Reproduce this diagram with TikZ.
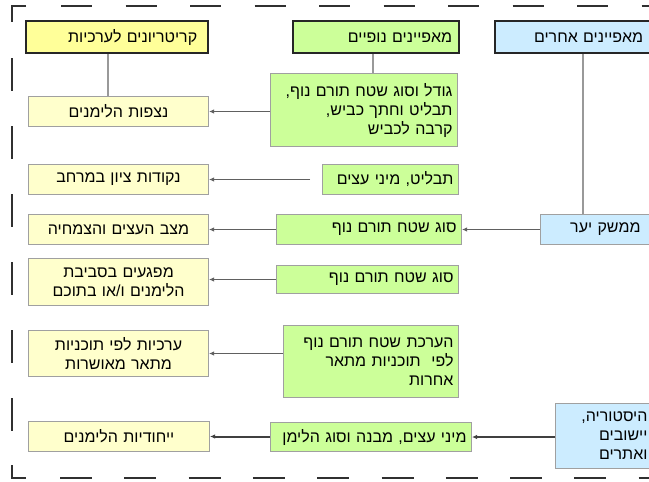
\documentclass[tikz,border=0pt]{standalone}
\usepackage{fontspec}
\newfontfamily\hebfont[Script=Hebrew]{Liberation Sans}
\TeXXeTstate=1
\usetikzlibrary{arrows.meta}
\newcommand{\heb}[1]{\beginR #1\endR}
\definecolor{hyel}{HTML}{FFFF99}
\definecolor{byel}{HTML}{FFFFCC}
\definecolor{bgrn}{HTML}{CCFF99}
\definecolor{bblu}{HTML}{CCECFF}
\definecolor{bord}{HTML}{A0A0A0}
\definecolor{conn}{HTML}{606060}
\definecolor{frm}{HTML}{303030}
\tikzset{
  boxbase/.style={draw=bord, line width=1pt, inner xsep=5pt, inner ysep=1pt,
    font=\hebfont\fontsize{16}{19}\selectfont, anchor=north west},
  head/.style={boxbase, draw=black!85, line width=2.4pt, align=right},
  ybox/.style={boxbase, fill=byel, align=center},
  gbox/.style={boxbase, fill=bgrn, align=right},
  bbox/.style={boxbase, fill=bblu, align=right},
  conline/.style={draw=conn, line width=1.4pt, -{Latex[length=5pt,width=4.5pt]}},
  vline/.style={draw=gray!80, line width=1.2pt},
  frame/.style={draw=frm, line width=1.8pt}
}
\newcommand{\bx}[7]{%
  \pgfmathsetmacro\bw{#5-#3}\pgfmathsetmacro\bh{#6-#4}\pgfmathsetmacro\tw{#5-#3-10}%
  \node[#2, minimum width=\bw pt, minimum height=\bh pt, text width=\tw pt] (#1) at (#3,#4) {#7};}
\begin{document}
\begin{tikzpicture}[x=1pt,y=-1pt]
\useasboundingbox (0,0) rectangle (649,482);
\fill[white] (0,0) rectangle (649,482);
\clip (0,0) rectangle (649,482);
% frame
\draw[frame] (26,6) -- (12,6) -- (12,22);
\draw[frame, dash pattern=on 31pt off 33.5pt] (61,6) -- (680,6);
\draw[frame, dash pattern=on 33pt off 35pt] (12,58) -- (12,440);
\draw[frame] (12,465) -- (12,478) -- (26,478);
\draw[frame, dash pattern=on 32pt off 32.3pt] (60,478) -- (680,478);
% headers
\bx{H1}{head, fill=hyel}{25}{20}{207}{52}{\heb{קריטריונים לערכיות}\kern6pt}
\bx{H2}{head, fill=bgrn}{292}{20}{458}{52}{\heb{מאפיינים נופיים}\kern2pt}
\bx{H3}{head, fill=bblu}{494}{20}{664}{52}{\heb{מאפיינים אחרים}\kern17pt}
% row 1
\bx{Y1}{ybox}{28}{96}{208}{126}{\heb{נצפות הלימנים}}
\bx{G1}{gbox}{270}{73}{457}{146}{\heb{גודל וסוג שטח תורם נוף,}\\\heb{תבליט וחתך כביש,}\\\heb{קרבה לכביש}}
% row 2
\bx{Y2}{ybox}{28}{164}{208}{194}{\heb{נקודות ציון במרחב}}
\bx{G2}{gbox}{322}{164}{458}{194}{\heb{תבליט, מיני עצים}}
% row 3
\bx{Y3}{ybox}{28}{214}{208}{244}{\heb{מצב העצים והצמחיה}}
\bx{G3}{gbox}{276}{214}{461}{244}{\heb{סוג שטח תורם נוף}}
\bx{B3}{bbox}{540}{214}{654}{244}{\heb{ממשק יער}\kern9pt}
% row 4
\bx{Y4}{ybox}{28}{258}{208}{305}{\heb{מפגעים בסביבת}\\\heb{הלימנים ו/או בתוכם}}
\bx{G4}{gbox}{276}{265}{458}{293}{\heb{סוג שטח תורם נוף}}
% row 5
\bx{Y5}{ybox}{28}{330}{208}{376}{\heb{ערכיות לפי תוכניות}\\\heb{מתאר מאושרות}}
\bx{G5}{gbox}{283}{325}{458}{397}{\heb{הערכת שטח תורם נוף}\\\heb{לפי~ תוכניות מתאר}\\\heb{אחרות}}
% row 6
\bx{Y6}{ybox}{28}{421}{209}{451}{\heb{ייחודיות הלימנים}}
\bx{G6}{gbox}{270}{422}{471}{451}{\heb{מיני עצים, מבנה וסוג הלימן}}
\bx{B6}{bbox}{555}{403}{664}{468}{\heb{היסטוריה,}\kern12pt\\\heb{יישובים}\kern12pt\\\heb{ואתרים}\kern12pt}
% vertical connectors
\draw[vline] (H1.south -| 108,0) -- (Y1.north -| 108,0);
\draw[vline] (H2.south -| 373,0) -- (G1.north -| 373,0);
\draw[vline] (H3.south -| 583,0) -- (B3.north -| 583,0);
% horizontal connectors
\draw[conline] (Y1.east -| G1.west) -- (Y1.east);
\draw[conline, shorten <=12pt] (Y2.east -| G2.west) -- (Y2.east);
\draw[conline] (G3.east -| B3.west) -- (G3.east);
\draw[conline] (Y3.east -| G3.west) -- (Y3.east);
\draw[conline] (G4.west) -- (G4.west -| Y4.east);
\draw[conline] (Y5.east -| G5.west) -- (Y5.east);
\draw[conline, line width=2pt, draw=black!75] (G6.east -| B6.west) -- (G6.east);
\draw[conline, line width=2pt, draw=black!75] (Y6.east -| G6.west) -- (Y6.east);
\end{tikzpicture}
\end{document}
